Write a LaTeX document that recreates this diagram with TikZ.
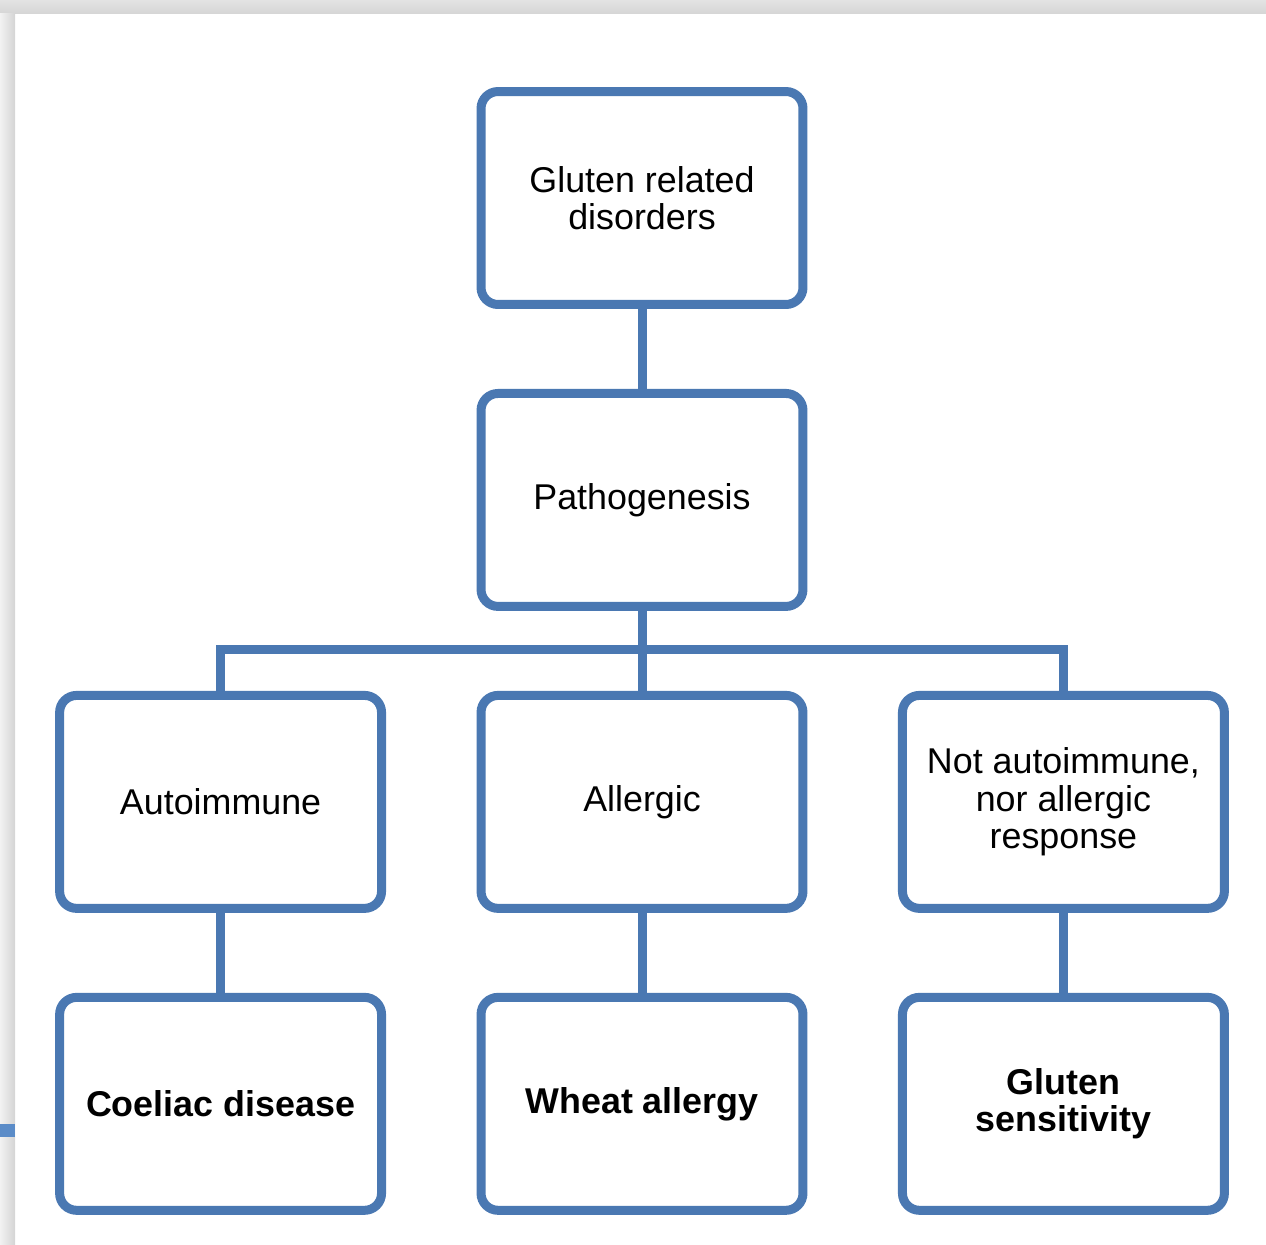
\documentclass[tikz,border=0pt]{standalone}
\usepackage{fontspec}
\setmainfont{Liberation Sans}
\usetikzlibrary{positioning}
\definecolor{boxblue}{HTML}{4A78B2}
\definecolor{edgeblue}{HTML}{5B8CC8}

\begin{document}
\begin{tikzpicture}[
  x=0.02cm, y=-0.02cm,
  catbox/.style={draw=boxblue, line width=0.18cm, rounded corners=0.34cm,
               fill=white, minimum width=6.44cm, minimum height=4.26cm,
               align=center, inner sep=0pt, font=\fontsize{20.4}{21.2}\selectfont},
  leafbox/.style={catbox, font=\fontsize{20.4}{21.2}\selectfont\bfseries},
  link/.style={draw=boxblue, line width=0.18cm},
  node distance=1.6cm and 1.81cm
]
  \useasboundingbox (0,0) rectangle (1266,1244);
  \fill[top color=black!11, bottom color=black!16] (0,0) rectangle (1266,13);
  \fill[left color=black!5, right color=black!17] (0,13) rectangle (15,1244);
  \fill[edgeblue] (0,1124) rectangle (15,1137);

  \node[catbox] (gluten) at (642,198) {Gluten related\\disorders};

  \node[catbox, below=of gluten] (patho) {Pathogenesis};

  \node[catbox, below=of patho] (allergic) {Allergic};
  \node[catbox, left=of allergic] (autoimm) {Autoimmune};
  \node[catbox, right=of allergic] (neither)
    {Not autoimmune,\\nor allergic\\response};

  \node[leafbox, below=of autoimm] (coeliac) {Coeliac disease};
  \node[leafbox, below=of allergic] (wheat) {Wheat allergy};
  \node[leafbox, below=of neither] (sensitiv) {Gluten\\sensitivity};

  \coordinate (bar) at (642,649);

  \draw[link] (gluten) -- (patho);
  \draw[link] (patho) -- (allergic);
  \draw[link] (autoimm.north) |- (bar) -| (neither.north);
  \draw[link] (autoimm) -- (coeliac);
  \draw[link] (allergic) -- (wheat);
  \draw[link] (neither) -- (sensitiv);
\end{tikzpicture}
\end{document}
